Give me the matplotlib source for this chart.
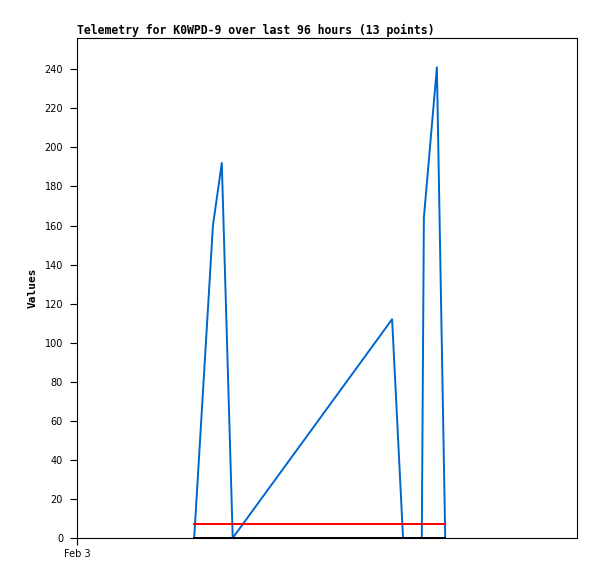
import matplotlib
matplotlib.use('Agg')
import matplotlib.pyplot as plt

# hours since Feb 3 00:00 (axis spans 96 hours)
hours = [22.5, 26.1, 27.8, 29.9, 60.5, 62.6, 66.2, 66.6, 69.1, 70.7]
values = [0, 160, 192, 0, 112, 0, 0, 164, 241, 0]

red_hours = [22.5, 70.7]
red_values = [7, 7]
black_hours = [22.5, 70.7]
black_values = [0, 0]

yticks = list(range(0, 241, 20))
xtick_pos = [0]
xtick_labels = ['Feb 3']

fig = plt.figure(figsize=(5.97, 5.79), dpi=100)
ax = fig.add_axes([77 / 597, 41 / 579, 500 / 597, 500 / 579])

ax.plot(hours, values, color='#0066cc', linewidth=1.4)
ax.plot(red_hours, red_values, color='#ff0000', linewidth=1.4)
ax.plot(black_hours, black_values, color='#000000', linewidth=1.4)

ax.set_xlim(0, 96)
ax.set_ylim(0, 256)
ax.set_yticks(yticks)
ax.set_xticks(xtick_pos)
ax.set_xticklabels(xtick_labels)
ax.tick_params(axis='both', direction='out', length=5, width=0.8, labelsize=7, pad=5)
ax.tick_params(axis='x', pad=3)

for s in ax.spines.values():
    s.set_linewidth(0.8)

ax.set_ylabel('Values', family='DejaVu Sans Mono', fontweight='bold', fontsize=8, labelpad=5)
ax.set_title('Telemetry for K0WPD-9 over last 96 hours (13 points)', family='DejaVu Sans Mono',
             fontweight='bold', fontsize=8.3, loc='left', pad=3)

fig.savefig('out.png', dpi=100)
